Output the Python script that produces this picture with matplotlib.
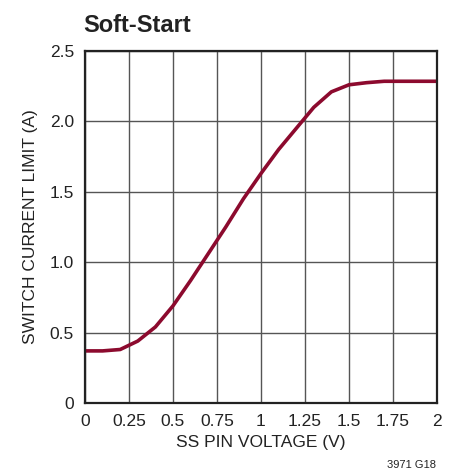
import matplotlib
matplotlib.use("Agg")
import matplotlib.pyplot as plt
from matplotlib import font_manager

names = {f.name for f in font_manager.fontManager.ttflist}
narrow = "Liberation Sans Narrow" if "Liberation Sans Narrow" in names else "Liberation Sans"
plt.rcParams["font.family"] = [narrow, "DejaVu Sans"]

# SS pin voltage (V) vs switch current limit (A)
ss_voltage = [0.0, 0.1, 0.2, 0.3, 0.4, 0.5, 0.6, 0.7, 0.8, 0.9, 1.0,
              1.1, 1.2, 1.3, 1.4, 1.5, 1.6, 1.7, 1.8, 1.9, 2.0]
current_limit = [0.37, 0.37, 0.38, 0.44, 0.54, 0.69, 0.87, 1.06, 1.25, 1.45, 1.63,
                 1.80, 1.95, 2.10, 2.21, 2.26, 2.275, 2.285, 2.285, 2.285, 2.285]

xticks = [0, 0.25, 0.5, 0.75, 1, 1.25, 1.5, 1.75, 2]
xlabels = ["0", "0.25", "0.5", "0.75", "1", "1.25", "1.5", "1.75", "2"]
yticks = [0, 0.5, 1.0, 1.5, 2.0, 2.5]
ylabels = ["0", "0.5", "1.0", "1.5", "2.0", "2.5"]

fig = plt.figure(figsize=(4.55, 4.74), dpi=100)
ax = fig.add_axes([0.1868, 0.1498, 0.7736, 0.7426])

ax.plot(ss_voltage, current_limit, color="#8c0a2e", lw=2.6, solid_capstyle="butt")

ax.set_xlim(0, 2)
ax.set_ylim(0, 2.5)
ax.set_xticks(xticks)
ax.set_xticklabels(xlabels)
ax.set_yticks(yticks)
ax.set_yticklabels(ylabels)
ax.tick_params(length=0, labelsize=12.5, pad=8, colors="#222222")
ax.grid(True, color="#555555", lw=1)
for s in ax.spines.values():
    s.set_linewidth(1.6)
    s.set_color("#222222")

ax.set_xlabel("SS PIN VOLTAGE (V)", fontsize=12.5, color="#222222", labelpad=4)
ax.set_ylabel("SWITCH CURRENT LIMIT (A)", fontsize=12.5, color="#222222", labelpad=8)

fig.text(83 / 455, 1 - 32 / 474, "Soft-Start", fontsize=17, fontweight="bold",
         color="#222222", ha="left", va="baseline")
fig.text(436 / 455, 1 - 468 / 474, "3971 G18", fontsize=8, color="#222222",
         ha="right", va="baseline")

fig.savefig("out.png", dpi=100)
